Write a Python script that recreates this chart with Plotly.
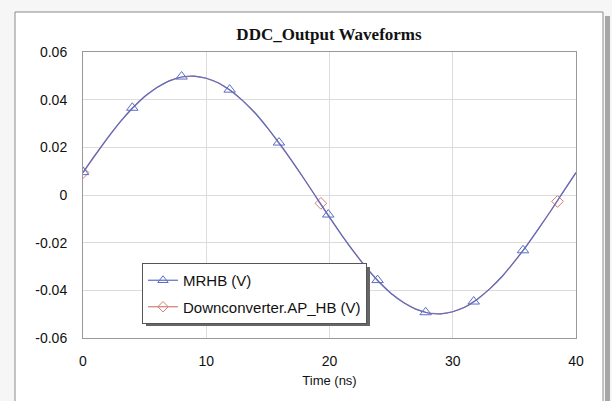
import plotly.graph_objects as go

# ---- data ----
time_ns = list(range(0, 41))
mrhb_v = [0.0094, 0.0169, 0.0240, 0.0306, 0.0364, 0.0413, 0.0451, 0.0479, 0.0495, 0.0499,
          0.0490, 0.0470, 0.0437, 0.0394, 0.0342, 0.0280, 0.0212, 0.0139, 0.0063, -0.0016,
          -0.0094, -0.0169, -0.0240, -0.0306, -0.0364, -0.0413, -0.0451, -0.0479, -0.0495, -0.0499,
          -0.0490, -0.0470, -0.0437, -0.0394, -0.0342, -0.0280, -0.0212, -0.0139, -0.0063, 0.0016,
          0.0094]
ap_hb_v = list(mrhb_v)

mrhb_marker_t = [0, 4, 8, 11.9, 15.9, 19.9, 23.9, 27.8, 31.7, 35.7]
mrhb_marker_v = [0.0096, 0.0366, 0.0497, 0.0442, 0.0220, -0.0082, -0.0357, -0.0492, -0.0447, -0.0232]
ap_marker_t = [0, 19.3, 38.5]
ap_marker_v = [0.0094, -0.0035, -0.0027]

series_names = ["MRHB (V)", "Downconverter.AP_HB (V)"]
x_ticks = [0, 10, 20, 30, 40]
y_ticks = [-0.06, -0.04, -0.02, 0, 0.02, 0.04, 0.06]
y_tick_text = ["-0.06", "-0.04", "-0.02", "0", "0.02", "0.04", "0.06"]

BLUE = "#5a6dc6"
RED = "#cf7f72"

fig = go.Figure()
# red series (under)
fig.add_trace(go.Scatter(x=time_ns, y=ap_hb_v, mode="lines", line=dict(color=RED, width=1.2),
                         showlegend=False, hoverinfo="skip"))
fig.add_trace(go.Scatter(x=ap_marker_t, y=ap_marker_v, mode="markers",
                         marker=dict(symbol="diamond-open", size=9, color=RED, line=dict(width=1)),
                         showlegend=False))
# blue series
fig.add_trace(go.Scatter(x=time_ns, y=mrhb_v, mode="lines", line=dict(color=BLUE, width=1.2, shape="spline"),
                         showlegend=False, hoverinfo="skip"))
fig.add_trace(go.Scatter(x=mrhb_marker_t, y=mrhb_marker_v, mode="markers",
                         marker=dict(symbol="triangle-up-open", size=10, color=BLUE, line=dict(width=1)),
                         showlegend=False))
# legend entries
fig.add_trace(go.Scatter(x=[None], y=[None], mode="lines+markers", name=series_names[0],
                         legendgroup="a",
                         line=dict(color=BLUE, width=1.2),
                         marker=dict(symbol="triangle-up-open", size=9, color=BLUE, line=dict(width=1))))
fig.add_trace(go.Scatter(x=[None], y=[None], mode="lines+markers", name=series_names[1],
                         legendgroup="b",
                         line=dict(color=RED, width=1.2),
                         marker=dict(symbol="diamond-open", size=8, color=RED, line=dict(width=1))))

L, R, T, B = 83, 36, 52, 63
W, H = 612, 401
pw, ph = W - L - R, H - T - B


def px(xp):
    return (xp - L) / pw


def py(yp):
    return (H - B - yp) / ph


shapes = [
    # outer frame
    dict(type="rect", xref="paper", yref="paper", x0=px(15), x1=px(603), y0=py(410), y1=py(12),
         line=dict(color="#8a8a8a", width=1), fillcolor="white", layer="below"),
    # right shadow stripe
    dict(type="rect", xref="paper", yref="paper", x0=px(605), x1=px(610), y0=py(410), y1=py(16),
         line=dict(width=0), fillcolor="#a6a6a6", layer="below"),
    # legend shadow
    dict(type="rect", xref="paper", yref="paper", x0=px(146), x1=px(370), y0=py(326), y1=py(267),
         line=dict(width=0), fillcolor="#666666", layer="above"),
]

fig.update_layout(
    width=W, height=H,
    margin=dict(l=L, r=R, t=T, b=B),
    paper_bgcolor="#f6f6f6",
    plot_bgcolor="white",
    title=dict(text="<b>DDC_Output Waveforms</b>", xref="container", x=329 / W, xanchor="center",
               y=1 - 34 / H, yanchor="middle",
               font=dict(family="Liberation Serif", size=17, color="#111")),
    font=dict(family="Liberation Sans, Arial", color="#111"),
    showlegend=True,
    legend=dict(x=px(142), y=py(263), xanchor="left", yanchor="top", bgcolor="white",
                bordercolor="#555", borderwidth=1, font=dict(size=15, family="Liberation Sans", color="#111"),
                tracegroupgap=4, itemwidth=30),
    shapes=shapes,
)
fig.update_xaxes(range=[0, 40], tickvals=x_ticks, ticktext=[str(v) for v in x_ticks],
                 showgrid=True, gridcolor="#dcdcdc", gridwidth=1, zeroline=False,
                 showline=True, linecolor="#999", linewidth=1, mirror=True,
                 ticks="", ticklabelstandoff=10, tickfont=dict(size=14),
                 title=dict(text="Time (ns)", font=dict(size=13), standoff=8))
fig.update_yaxes(range=[-0.06, 0.06], tickvals=y_ticks, ticktext=y_tick_text,
                 showgrid=True, gridcolor="#dcdcdc", gridwidth=1, zeroline=False,
                 showline=True, linecolor="#999", linewidth=1, mirror=True,
                 ticks="", ticklabelstandoff=12, tickfont=dict(size=14))

fig.write_html("out.html")
